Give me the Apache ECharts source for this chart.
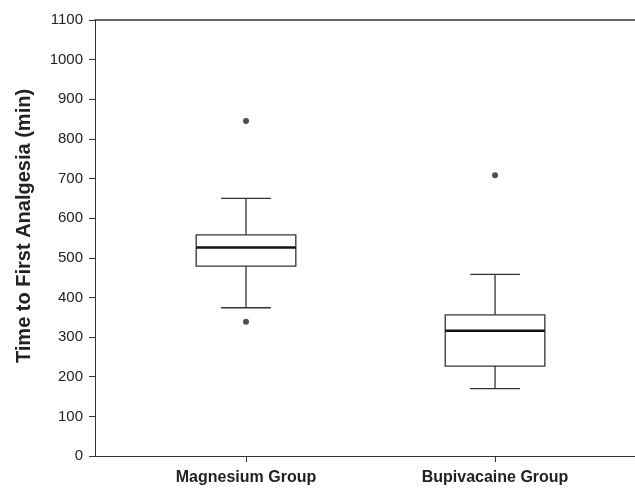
<!DOCTYPE html>
<html>
<head>
<meta charset="utf-8">
<script src="https://cdn.jsdelivr.net/npm/echarts@6/dist/echarts.min.js"></script>
<style>
  html, body { margin: 0; padding: 0; background: #fff; }
  #chart { width: 635px; height: 488px; }
</style>
</head>
<body>
<div id="chart"></div>
<script>
// groups and box stats: [min, Q1, median, Q3, max]
const groups = ['Magnesium Group', 'Bupivacaine Group'];
const boxStats = [
  [374, 479, 526, 558, 650],
  [170, 227, 316, 356, 458]
];
// outliers: [group index, value]
const outliers = [
  [0, 845],
  [0, 339],
  [1, 708]
];
const yTicks = [0, 1100, 100]; // min, max, step

const chart = echarts.init(document.getElementById('chart'));

const boxData = boxStats.map((s, i) => [i + 1].concat(s));
const outlierData = outliers.map(o => [o[0] + 1, o[1]]);

const lineColor = '#333';
const xMin = 0.3936, xMax = 2.562;

function renderBox(params, api) {
  const x = api.value(0);
  const lo = api.coord([x, api.value(1)]);
  const q1 = api.coord([x, api.value(2)]);
  const med = api.coord([x, api.value(3)]);
  const q3 = api.coord([x, api.value(4)]);
  const hi = api.coord([x, api.value(5)]);
  const boxW = api.size([0.4, 0])[0];
  const capW = api.size([0.2, 0])[0];
  const cx = lo[0];
  const st = { stroke: lineColor, lineWidth: 1.3, fill: null };
  return {
    type: 'group',
    children: [
      { type: 'line', shape: { x1: cx, y1: hi[1], x2: cx, y2: q3[1] }, style: st },
      { type: 'line', shape: { x1: cx, y1: q1[1], x2: cx, y2: lo[1] }, style: st },
      { type: 'line', shape: { x1: cx - capW / 2, y1: hi[1], x2: cx + capW / 2, y2: hi[1] }, style: st },
      { type: 'line', shape: { x1: cx - capW / 2, y1: lo[1], x2: cx + capW / 2, y2: lo[1] }, style: st },
      { type: 'rect', shape: { x: cx - boxW / 2, y: q3[1], width: boxW, height: q1[1] - q3[1] }, style: { stroke: lineColor, lineWidth: 1.3, fill: '#fff' } },
      { type: 'line', shape: { x1: cx - boxW / 2, y1: med[1], x2: cx + boxW / 2, y2: med[1] }, style: { stroke: '#111', lineWidth: 2.6 } }
    ]
  };
}

chart.setOption({
  animation: false,
  grid: { left: 95, top: 20, right: 0, bottom: 32 },
  xAxis: [
    {
      type: 'value',
      min: xMin,
      max: xMax,
      splitLine: { show: false },
      axisLine: { show: true, onZero: false, lineStyle: { color: lineColor, width: 1 } },
      axisTick: { show: true, length: 6, customValues: [1, 2], lineStyle: { color: lineColor } },
      axisLabel: {
        customValues: [1, 2],
        margin: 14,
        color: '#222',
        fontFamily: 'Liberation Sans, Arial, sans-serif',
        fontWeight: 'bold',
        fontSize: 16,
        formatter: v => groups[Math.round(v) - 1] || ''
      }
    },
    {
      // top frame line
      type: 'value',
      position: 'top',
      min: xMin,
      max: xMax,
      splitLine: { show: false },
      axisLine: { show: true, onZero: false, lineStyle: { color: lineColor, width: 1.5 } },
      axisTick: { show: false },
      axisLabel: { show: false }
    }
  ],
  yAxis: {
    type: 'value',
    min: yTicks[0],
    max: yTicks[1],
    interval: yTicks[2],
    name: 'Time to First Analgesia (min)',
    nameLocation: 'middle',
    nameGap: 61,
    nameTextStyle: {
      color: '#222',
      fontFamily: 'Liberation Sans, Arial, sans-serif',
      fontWeight: 'bold',
      fontSize: 20,
      padding: [0, 0, 0, 24]
    },
    splitLine: { show: false },
    axisLine: { show: true, lineStyle: { color: lineColor, width: 1 } },
    axisTick: { show: true, length: 6, lineStyle: { color: lineColor } },
    axisLabel: {
      margin: 12,
      color: '#222',
      fontFamily: 'Liberation Sans, Arial, sans-serif',
      fontSize: 15,
      formatter: v => String(v)
    }
  },
  series: [
    {
      type: 'custom',
      renderItem: renderBox,
      data: boxData,
      encode: { x: 0, y: [1, 2, 3, 4, 5] },
      z: 3
    },
    {
      type: 'scatter',
      data: outlierData,
      symbol: 'circle',
      symbolSize: 6,
      itemStyle: { color: '#222' },
      z: 4
    }
  ]
});
</script>
</body>
</html>
